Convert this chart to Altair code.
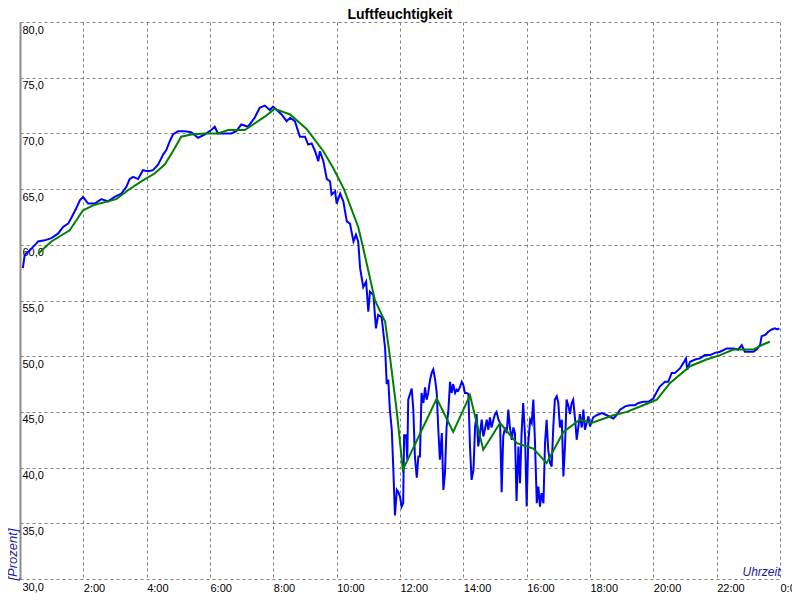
import altair as alt
import pandas as pd

# measured humidity (blue)
blue_hours = [
    0.09, 0.15, 0.31, 0.51, 0.57, 0.78, 0.99, 1.20, 1.36, 1.52, 1.62, 1.78, 1.89, 1.99,
    2.15, 2.36, 2.57, 2.78, 2.99, 3.20, 3.36, 3.46, 3.57, 3.73, 3.88, 4.04, 4.20, 4.36,
    4.52, 4.62, 4.73, 4.83, 4.99, 5.20, 5.41, 5.62, 5.83, 6.04, 6.15, 6.25, 6.46, 6.67,
    6.83, 6.99, 7.20, 7.41, 7.57, 7.73, 7.89, 7.99, 8.11,
    8.26, 8.42, 8.53, 8.68, 8.84, 9.00, 9.10, 9.21, 9.32, 9.42, 9.47, 9.58, 9.69, 9.79,
    9.84, 9.95, 10.00, 10.11, 10.21, 10.32, 10.42, 10.53, 10.61, 10.68, 10.74, 10.84,
    10.93, 11.00, 11.05, 11.16, 11.24, 11.31, 11.42, 11.53, 11.58, 11.63, 11.68, 11.74,
    11.79, 11.84, 11.90, 11.95, 12.00, 12.05, 12.10,
    12.13, 12.19, 12.23, 12.26, 12.37, 12.42, 12.47, 12.53, 12.58, 12.63, 12.68, 12.74,
    12.79, 12.84, 12.89, 12.95, 13.00, 13.05, 13.11, 13.16, 13.21, 13.26, 13.32, 13.37,
    13.42, 13.47, 13.53, 13.58, 13.63, 13.68, 13.74, 13.79, 13.84, 13.89, 13.95, 14.00,
    14.05, 14.11, 14.16, 14.21, 14.26, 14.32, 14.37, 14.42, 14.47, 14.53, 14.58, 14.63,
    14.68, 14.74, 14.79, 14.84, 14.89, 14.95, 15.00, 15.05, 15.11, 15.16, 15.21, 15.26,
    15.32, 15.37, 15.42, 15.47, 15.53, 15.58, 15.63, 15.68, 15.74, 15.79, 15.84, 15.89,
    15.95, 16.00, 16.05, 16.11, 16.16, 16.21, 16.26, 16.32, 16.37, 16.42, 16.47, 16.53,
    16.58, 16.63, 16.68, 16.74, 16.79, 16.84, 16.89, 16.95, 17.00, 17.05, 17.11, 17.16,
    17.21, 17.26, 17.32, 17.37, 17.42, 17.47, 17.53, 17.58, 17.63, 17.68, 17.74,
    17.79, 17.84, 17.95, 18.00, 18.10, 18.21, 18.37, 18.53, 18.74, 18.84, 18.95, 19.11,
    19.26, 19.42, 19.53, 19.68, 19.84, 20.00, 20.11, 20.21, 20.37, 20.47, 20.58, 20.68,
    20.84, 20.95, 21.03, 21.07, 21.16, 21.32, 21.47, 21.63, 21.79, 21.95, 22.11, 22.32,
    22.53, 22.68, 22.79, 22.89, 23.00, 23.16, 23.26, 23.37, 23.42, 23.53, 23.63, 23.74,
    23.84, 23.91, 23.98,
]
blue_values = [
    57.9, 59.1, 59.5, 60.1, 60.3, 60.4, 60.6, 61.0, 61.6, 61.9, 62.4, 63.3, 64.0, 64.3,
    63.7, 63.7, 64.1, 63.9, 64.3, 64.6, 65.2, 65.9, 66.1, 65.9, 66.7, 66.6, 66.7, 67.2,
    68.1, 68.5, 69.3, 69.9, 70.2, 70.2, 70.1, 69.6, 69.9, 70.3, 70.6, 70.0, 70.0, 70.0,
    70.2, 70.8, 70.6, 71.4, 72.3, 72.5, 72.1, 72.4, 72.1,
    71.7, 71.1, 71.4, 71.1, 69.7, 69.7, 69.0, 69.1, 68.4, 67.5, 68.4, 67.5, 65.9, 65.7,
    64.5, 64.8, 63.7, 64.6, 63.9, 62.1, 61.9, 60.3, 60.9, 60.3, 57.9, 56.2,
    56.7, 54.0, 55.8, 55.5, 52.5, 53.7, 53.5, 50.7, 47.5, 47.9, 45.2, 43.4,
    39.8, 35.7, 38.0, 37.8, 37.4, 36.5, 36.8,
    42.9, 42.9, 40.7, 46.1, 47.1, 45.2, 41.0, 39.1, 41.0, 41.0, 46.7, 45.8,
    47.2, 46.1, 46.7, 47.9, 48.5, 48.8, 47.9, 46.7, 43.4, 40.7, 43.1, 38.0,
    39.5, 43.6, 45.2, 47.7, 46.7, 47.5, 46.7, 47.0, 46.9, 47.2, 47.7, 47.4,
    46.7, 46.7, 46.6, 41.9, 38.9, 39.8, 43.6, 44.8, 41.9, 43.1, 44.3, 42.8,
    43.4, 44.3, 43.4, 44.5, 43.6, 44.3, 44.8, 45.0, 44.3, 44.0, 37.8, 42.8,
    43.6, 43.1, 45.2, 43.6, 42.5, 43.6, 43.1, 37.0, 41.9, 38.6, 43.1, 45.8,
    42.8, 36.5, 42.2, 44.3, 44.0, 46.1, 42.5, 36.8, 38.3, 36.5, 37.7, 36.8,
    42.2, 44.3, 41.6, 40.4, 40.1, 43.6, 46.1, 46.4, 45.8, 43.6, 44.3, 39.2,
    41.9, 46.1, 45.5, 44.8, 45.8, 46.1, 44.3, 42.5, 43.6, 44.8, 43.6,
    45.2, 43.4, 44.6, 43.7, 44.5, 44.7, 44.9, 44.7, 44.4, 44.7, 45.2, 45.5,
    45.6, 45.6, 45.8, 45.9, 45.9, 46.2, 46.8, 47.3, 47.7, 47.7, 48.5, 48.5,
    48.9, 49.4, 49.8, 48.8, 49.5, 49.7, 49.8, 50.1, 50.1, 50.3, 50.4, 50.7,
    50.7, 50.6, 51.0, 50.4, 50.4, 50.4, 50.6, 51.0, 51.8, 51.9, 52.2, 52.4,
    52.5, 52.4, 52.5,
]

# smoothed humidity (green)
green_hours = [
    0.57, 0.99, 1.57, 1.78, 1.99, 2.36, 2.78, 3.04, 3.41, 3.83, 4.25, 4.57, 4.83, 5.09,
    5.41, 5.83, 6.25, 6.57, 7.10, 7.36, 7.73, 8.04, 8.53, 9.05, 9.58, 9.89, 10.23, 10.68,
    10.79, 10.95, 11.21, 11.53, 11.68, 11.90, 12.09, 13.16, 13.68, 14.21, 14.63, 15.16,
    15.69, 16.21, 16.63, 17.16, 17.68, 18.05, 18.74, 19.16, 19.68, 20.11, 20.53, 21.16,
    21.68, 22.11, 22.53, 22.89, 23.16, 23.42, 23.68,
]
green_values = [
    59.2, 60.3, 61.3, 62.2, 63.1, 63.6, 63.9, 64.1, 64.9, 65.7, 66.4, 67.2, 68.4, 69.7,
    69.9, 70.0, 70.0, 70.3, 70.3, 70.8, 71.5, 72.2, 71.7, 70.4, 68.4, 66.9, 65.0, 61.6,
    60.3, 58.3, 55.0, 53.1, 50.0, 45.0, 39.8, 46.2, 43.2, 46.5, 41.6, 44.0,
    42.2, 41.7, 40.4, 43.2, 44.3, 44.0, 44.7, 45.0, 45.6, 46.1, 47.6, 49.1,
    49.7, 50.1, 50.6, 50.6, 50.6, 51.0, 51.3,
]

x_ticks = list(range(0, 25, 2))
y_ticks = list(range(30, 81, 5))

blue_df = pd.DataFrame({"h": blue_hours, "v": blue_values})
green_df = pd.DataFrame({"h": green_hours, "v": green_values})

FONT = "Liberation Sans"
GRID = "#808080"
NAVY = "#1a1a99"

x_enc = alt.X(
    "h:Q",
    scale=alt.Scale(domain=[0, 24], nice=False, zero=False),
    axis=alt.Axis(
        values=x_ticks,
        title="Uhrzeit",
        titleFont=FONT, titleFontSize=12, titleFontStyle="italic",
        titleFontWeight="normal", titleColor=NAVY,
        titleAlign="right", titleBaseline="alphabetic",
        titleX=760, titleY=-4, titleAnchor="end",
        labelExpr="datum.value == 0 ? '' : (datum.value == 24 ? '0:00' : datum.value + ':00')",
        labelAlign="left", labelBaseline="top", labelPadding=3,
        labelFont=FONT, labelFontSize=11, labelColor="#000000",
        labelOverlap=False, labelFlush=False,
        ticks=False, tickSize=0, domain=False,
        grid=True, gridColor=GRID, gridDash=[3, 3], gridWidth=1, gridOpacity=1,
    ),
)
y_enc = alt.Y(
    "v:Q",
    scale=alt.Scale(domain=[30, 80], nice=False, zero=False),
    axis=alt.Axis(
        values=y_ticks,
        title="[Prozent]",
        titleFont=FONT, titleFontSize=13, titleFontStyle="italic",
        titleFontWeight="normal", titleColor=NAVY,
        titleAngle=270, titleAlign="left", titleBaseline="bottom",
        titleX=-1, titleY=558, titleAnchor="start",
        labelExpr="replace(format(datum.value, '.1f'), '.', ',')",
        labelAlign="left", labelBaseline="top", labelPadding=-2, labelOffset=2,
        labelFont=FONT, labelFontSize=11, labelColor="#000000",
        labelOverlap=False, labelFlush=False,
        ticks=False, tickSize=0,
        domain=True, domainColor="#8c8c8c", domainWidth=2,
        grid=True, gridColor=GRID, gridDash=[3, 3], gridWidth=1, gridOpacity=1,
    ),
)

blue = alt.Chart(blue_df).mark_line(color="#0000ff", strokeWidth=2).encode(x=x_enc, y=y_enc)
green = alt.Chart(green_df).mark_line(color="#008000", strokeWidth=2).encode(x="h:Q", y="v:Q")

chart = (
    alt.layer(blue, green)
    .properties(
        width=760,
        height=557,
        padding={"left": 12, "top": 14, "right": 12, "bottom": 16},
        autosize=alt.AutoSizeParams(type="none"),
        background="#ffffff",
        title=alt.TitleParams(
            "Luftfeuchtigkeit", font=FONT, fontSize=14, fontWeight="bold",
            anchor="middle", offset=0, color="#000000",
        ),
    )
    .configure_view(stroke=None)
)

chart.save("out.html", embed_options={"renderer": "svg", "actions": False})
